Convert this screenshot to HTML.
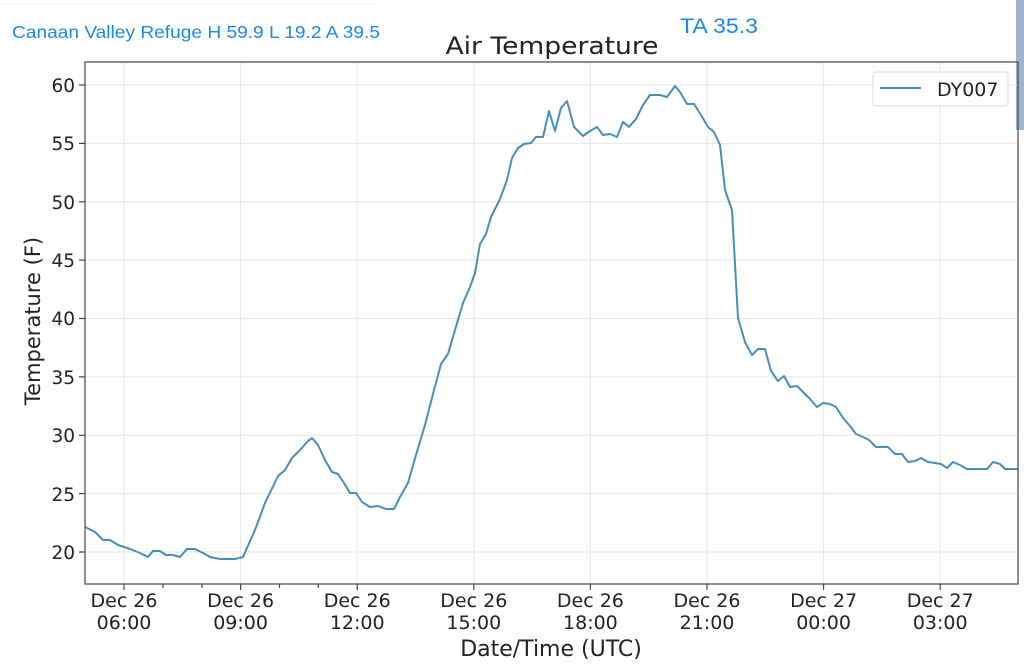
<!DOCTYPE html><html><head><style>body{margin:0;background:#fff}svg{display:block;font-family:"DejaVu Sans","Liberation Sans",sans-serif}</style></head><body>
<svg width="1024" height="670" xmlns="http://www.w3.org/2000/svg">
<rect x="1016" y="0" width="8" height="130" fill="#9db4cc"/>
<line x1="0" x2="375" y1="4" y2="4" stroke="#eee"/>
<text x="12" y="38" font-size="17.5" fill="#1e88e5" font-family="Liberation Sans,sans-serif" textLength="368" lengthAdjust="spacingAndGlyphs">Canaan Valley Refuge H 59.9 L 19.2 A 39.5</text>
<text x="680" y="33" font-size="21" fill="#1e88e5" font-family="Liberation Sans,sans-serif" textLength="78" lengthAdjust="spacingAndGlyphs">TA 35.3</text>
<text x="552" y="54" font-size="24" text-anchor="middle" fill="#222" textLength="213" lengthAdjust="spacingAndGlyphs">Air Temperature</text>
<g stroke="#e6e6e6" stroke-width="1">
<line x1="85" x2="1018" y1="85" y2="85"/><line x1="85" x2="1018" y1="143.4" y2="143.4"/><line x1="85" x2="1018" y1="201.8" y2="201.8"/><line x1="85" x2="1018" y1="260.1" y2="260.1"/><line x1="85" x2="1018" y1="318.5" y2="318.5"/><line x1="85" x2="1018" y1="376.9" y2="376.9"/><line x1="85" x2="1018" y1="435.3" y2="435.3"/><line x1="85" x2="1018" y1="493.6" y2="493.6"/><line x1="85" x2="1018" y1="552" y2="552"/>
<line y1="62" y2="584" x1="124" x2="124"/><line y1="62" y2="584" x1="240.6" x2="240.6"/><line y1="62" y2="584" x1="357.2" x2="357.2"/><line y1="62" y2="584" x1="473.8" x2="473.8"/><line y1="62" y2="584" x1="590.4" x2="590.4"/><line y1="62" y2="584" x1="707" x2="707"/><line y1="62" y2="584" x1="823.6" x2="823.6"/><line y1="62" y2="584" x1="940.2" x2="940.2"/>
</g>
<polyline fill="none" stroke="#4a8fb3" stroke-width="2" stroke-linejoin="round" points="85,527 95,532 103,540 110,540 118,545 130,549 140,553 148,557 153,551 160,551 166,555 173,555 180,557 187,549 195,549 203,553 210,557 220,559 235,559 243,557 255,530 265,503 278,476 285,470 292,458 300,450 308,441 312,438 318,445 325,460 332,472 338,474 344,483 350,493 356,493 362,502 370,507 378,506 386,509 394,509 400,497 408,483 416,455 425,425 433,394 441,364 448,354 455,330 463,303 470,287 475,273 480,244 486,234 491,217 500,199 507,180 512,158 518,148 524,144 531,143 536,137 543,137 549,111 555,131 561,108 567,101 574,127 583,136 590,131 597,127 603,135 610,134 617,137 623,122 629,127 636,119 643,105 650,95 660,95 667,97 675,86 680,92 687,104 694,104 701,115 708,127 714,132 720,145 725,190 732,210 738,318 745,342 752,355 758,349 765,349 771,371 778,381 784,376 790,387 797,386 804,393 810,399 817,407 823,403 830,404 836,407 843,418 850,426 856,434 863,437 869,440 876,447 888,447 895,454 902,454 908,462 915,461 921,458 928,462 935,463 941,464 947,468 953,462 960,465 967,469 987,469 993,462 1000,464 1005,469 1018,469"/>
<rect x="85" y="62" width="933" height="522" fill="none" stroke="#444" stroke-width="1.2"/>
<g stroke="#444" stroke-width="1.2">
<line x1="79" x2="85" y1="85" y2="85"/><line x1="79" x2="85" y1="143.4" y2="143.4"/><line x1="79" x2="85" y1="201.8" y2="201.8"/><line x1="79" x2="85" y1="260.1" y2="260.1"/><line x1="79" x2="85" y1="318.5" y2="318.5"/><line x1="79" x2="85" y1="376.9" y2="376.9"/><line x1="79" x2="85" y1="435.3" y2="435.3"/><line x1="79" x2="85" y1="493.6" y2="493.6"/><line x1="79" x2="85" y1="552" y2="552"/>
<line y1="584" y2="590" x1="124" x2="124"/><line y1="584" y2="590" x1="240.6" x2="240.6"/><line y1="584" y2="590" x1="357.2" x2="357.2"/><line y1="584" y2="590" x1="473.8" x2="473.8"/><line y1="584" y2="590" x1="590.4" x2="590.4"/><line y1="584" y2="590" x1="707" x2="707"/><line y1="584" y2="590" x1="823.6" x2="823.6"/><line y1="584" y2="590" x1="940.2" x2="940.2"/>
<line y1="584" y2="588" x1="163" x2="163"/><line y1="584" y2="588" x1="202" x2="202"/><line y1="584" y2="588" x1="279.5" x2="279.5"/><line y1="584" y2="588" x1="318.3" x2="318.3"/>
</g>
<g font-size="18.5" fill="#222" text-anchor="end">
<text x="75" y="92">60</text><text x="75" y="150">55</text><text x="75" y="209">50</text><text x="75" y="267">45</text><text x="75" y="325">40</text><text x="75" y="384">35</text><text x="75" y="442">30</text><text x="75" y="501">25</text><text x="75" y="559">20</text>
</g>
<g font-size="19" fill="#222" text-anchor="middle">
<text x="124" y="607">Dec 26</text><text x="124" y="629">06:00</text>
<text x="240.6" y="607">Dec 26</text><text x="240.6" y="629">09:00</text>
<text x="357.2" y="607">Dec 26</text><text x="357.2" y="629">12:00</text>
<text x="473.8" y="607">Dec 26</text><text x="473.8" y="629">15:00</text>
<text x="590.4" y="607">Dec 26</text><text x="590.4" y="629">18:00</text>
<text x="707" y="607">Dec 26</text><text x="707" y="629">21:00</text>
<text x="823.6" y="607">Dec 27</text><text x="823.6" y="629">00:00</text>
<text x="940.2" y="607">Dec 27</text><text x="940.2" y="629">03:00</text>
<text x="551" y="656" font-size="22">Date/Time (UTC)</text>
<text transform="translate(40,321) rotate(-90)" font-size="21">Temperature (F)</text>
</g>
<rect x="873" y="72" width="135" height="34" rx="3" fill="#fff" stroke="#ddd"/>
<line x1="880" x2="921" y1="88" y2="88" stroke="#4a8fb3" stroke-width="2"/>
<text x="937" y="96" font-size="19" fill="#222">DY007</text>
</svg>
</body></html>
